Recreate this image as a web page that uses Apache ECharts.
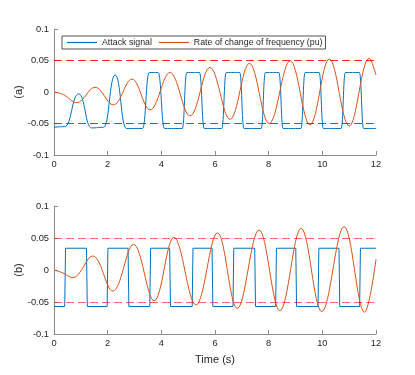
<!DOCTYPE html>
<html>
<head>
<meta charset="utf-8">
<script src="https://cdn.jsdelivr.net/npm/echarts@6/dist/echarts.min.js"></script>
<style>
  html, body { margin: 0; padding: 0; background: #fff; }
  #chart { width: 415px; height: 375px; }
</style>
</head>
<body>
<div id="chart"></div>
<script>
// x ticks (s) and y ticks
var timeTicks = [0, 2, 4, 6, 8, 10, 12];
var yTicks = [-0.1, -0.05, 0, 0.05, 0.1];
var limits = [0.05, -0.05];

// (a) attack signal, smoothed pulses  [t, value]
var attackA = [
  [0, -0.056], [0.4, -0.055], [0.92, -0.003], [1.4, -0.057], [1.85, -0.056],
  [2.28, 0.027], [2.7, -0.058], [3.3, -0.058], [3.55, 0.031], [3.88, 0.031],
  [4.12, -0.058], [4.78, -0.058], [4.95, 0.031], [5.42, 0.031], [5.6, -0.058],
  [6.25, -0.058], [6.42, 0.031], [6.92, 0.031], [7.08, -0.058], [7.72, -0.058],
  [7.88, 0.031], [8.38, 0.031], [8.54, -0.058], [9.2, -0.058], [9.36, 0.031],
  [9.88, 0.031], [10.04, -0.058], [10.7, -0.058], [10.86, 0.031], [11.38, 0.031],
  [11.54, -0.058], [12, -0.058]
];

// (a) rate of change of frequency (pu): start, peaks/troughs, end
var rocofA = [
  [0, 0], [0.35, -0.004], [0.85, -0.017], [1.53, 0.0075], [2.21, -0.0205],
  [2.9, 0.0205], [3.58, -0.0285], [4.32, 0.031], [5.07, -0.038], [5.81, 0.039],
  [6.56, -0.0435], [7.28, 0.0455], [8.02, -0.05], [8.8, 0.0497], [9.54, -0.052],
  [10.26, 0.0524], [11.0, -0.054], [11.75, 0.0535], [12, 0.027]
];

// (b) attack signal, square wave
var attackB = [
  [0, -0.057], [0.40, -0.057], [0.43, 0.034], [1.21, 0.034], [1.24, -0.057],
  [1.98, -0.057], [2.01, 0.034], [2.76, 0.034], [2.79, -0.057], [3.57, -0.057],
  [3.60, 0.034], [4.31, 0.034], [4.34, -0.057], [5.15, -0.057], [5.18, 0.034],
  [5.89, 0.034], [5.92, -0.057], [6.67, -0.057], [6.70, 0.034], [7.48, 0.034],
  [7.51, -0.057], [8.26, -0.057], [8.29, 0.034], [9.01, 0.034], [9.04, -0.057],
  [9.84, -0.057], [9.87, 0.034], [10.62, 0.034], [10.65, -0.057], [11.39, -0.057],
  [11.42, 0.034], [12, 0.034]
];

// (b) rate of change of frequency (pu): start, peaks/troughs, end
var rocofB = [
  [0, 0], [0.3, -0.004], [0.7, -0.012], [1.44, 0.022], [2.19, -0.033],
  [2.96, 0.040], [3.73, -0.048], [4.47, 0.051], [5.29, -0.0547], [6.09, 0.058],
  [6.83, -0.060], [7.64, 0.0625], [8.42, -0.0635], [9.21, 0.065], [9.98, -0.065],
  [10.81, 0.0677], [11.57, -0.066], [12, 0.0167]
];

var BLUE = '#0072BD';
var ORANGE = '#D95319';
var AXIS = '#8c8c8c';
var TXT = '#262626';

function xAx(idx, name) {
  return {
    type: 'value', gridIndex: idx, min: timeTicks[0], max: timeTicks[timeTicks.length - 1], interval: 2,
    name: name, nameLocation: 'middle', nameGap: 20,
    nameTextStyle: { color: TXT, fontSize: 11, fontFamily: 'Liberation Sans' },
    axisLine: { onZero: false, lineStyle: { color: AXIS, width: 1 } },
    axisTick: { inside: true, length: 4, lineStyle: { color: AXIS } },
    axisLabel: { color: TXT, fontSize: 9.3, margin: 5, fontFamily: 'Liberation Sans' },
    splitLine: { show: false }
  };
}
function yAx(idx, name) {
  return {
    type: 'value', gridIndex: idx, min: yTicks[0], max: yTicks[yTicks.length - 1], interval: 0.05,
    name: name, nameLocation: 'middle', nameGap: 30, nameRotate: 90, nameMoveOverlap: false,
    nameTextStyle: { color: TXT, fontSize: 11, fontFamily: 'Liberation Sans' },
    axisLine: { show: true, onZero: false, lineStyle: { color: AXIS, width: 1 } },
    axisTick: { show: true, inside: true, length: 4, lineStyle: { color: AXIS } },
    axisLabel: { color: TXT, fontSize: 9.3, margin: 5, fontFamily: 'Liberation Sans' },
    splitLine: { show: false }
  };
}
function limitLines(color) {
  return {
    silent: true, symbol: 'none', label: { show: false },
    lineStyle: { color: color, width: 1, type: [8, 4] },
    data: limits.map(function (v) { return { yAxis: v }; })
  };
}

var myChart = echarts.init(document.getElementById('chart'), null, { renderer: 'canvas' });

option = {
    animation: false,
    backgroundColor: '#fff',
    grid: [
        { left: 54, top: 29, width: 322, height: 126 },
        { left: 54, top: 206, width: 322, height: 128 }
    ],
    legend: {
        data: ['Attack signal', 'Rate of change of frequency (pu)'],
        left: 62, top: 36,
        padding: [2, 3, 2, 5],
        itemGap: 7, itemWidth: 30, itemHeight: 1.2,
        icon: 'rect',
        borderColor: '#262626', borderWidth: 0.8,
        backgroundColor: '#fff',
        textStyle: { color: TXT, fontSize: 8.8, fontFamily: 'Liberation Sans' }
    },
    xAxis: [xAx(0, ''), xAx(1, 'Time (s)')],
    yAxis: [yAx(0, '(a)'), yAx(1, '(b)')],
    series: [
        {
            name: 'Attack signal', type: 'line', xAxisIndex: 0, yAxisIndex: 0,
            data: attackA, showSymbol: false, smooth: 0.5, smoothMonotone: 'x',
            lineStyle: { color: BLUE, width: 1 }, itemStyle: { color: BLUE }, z: 3
        },
        {
            name: 'Rate of change of frequency (pu)', type: 'line', xAxisIndex: 0, yAxisIndex: 0,
            data: rocofA, showSymbol: false, smooth: 0.38,
            lineStyle: { color: ORANGE, width: 1 }, itemStyle: { color: ORANGE }, z: 4,
            markLine: limitLines('rgba(255,0,0,0.85)')
        },
        {
            name: 'Attack signal', type: 'line', xAxisIndex: 1, yAxisIndex: 1,
            data: attackB, showSymbol: false,
            lineStyle: { color: BLUE, width: 1 }, itemStyle: { color: BLUE }, z: 3
        },
        {
            name: 'Rate of change of frequency (pu)', type: 'line', xAxisIndex: 1, yAxisIndex: 1,
            data: rocofB, showSymbol: false, smooth: 0.38,
            lineStyle: { color: ORANGE, width: 1 }, itemStyle: { color: ORANGE }, z: 4,
            markLine: limitLines('rgba(255,0,0,0.6)')
        }
    ]
};

myChart.setOption(option);
</script>
</body>
</html>
